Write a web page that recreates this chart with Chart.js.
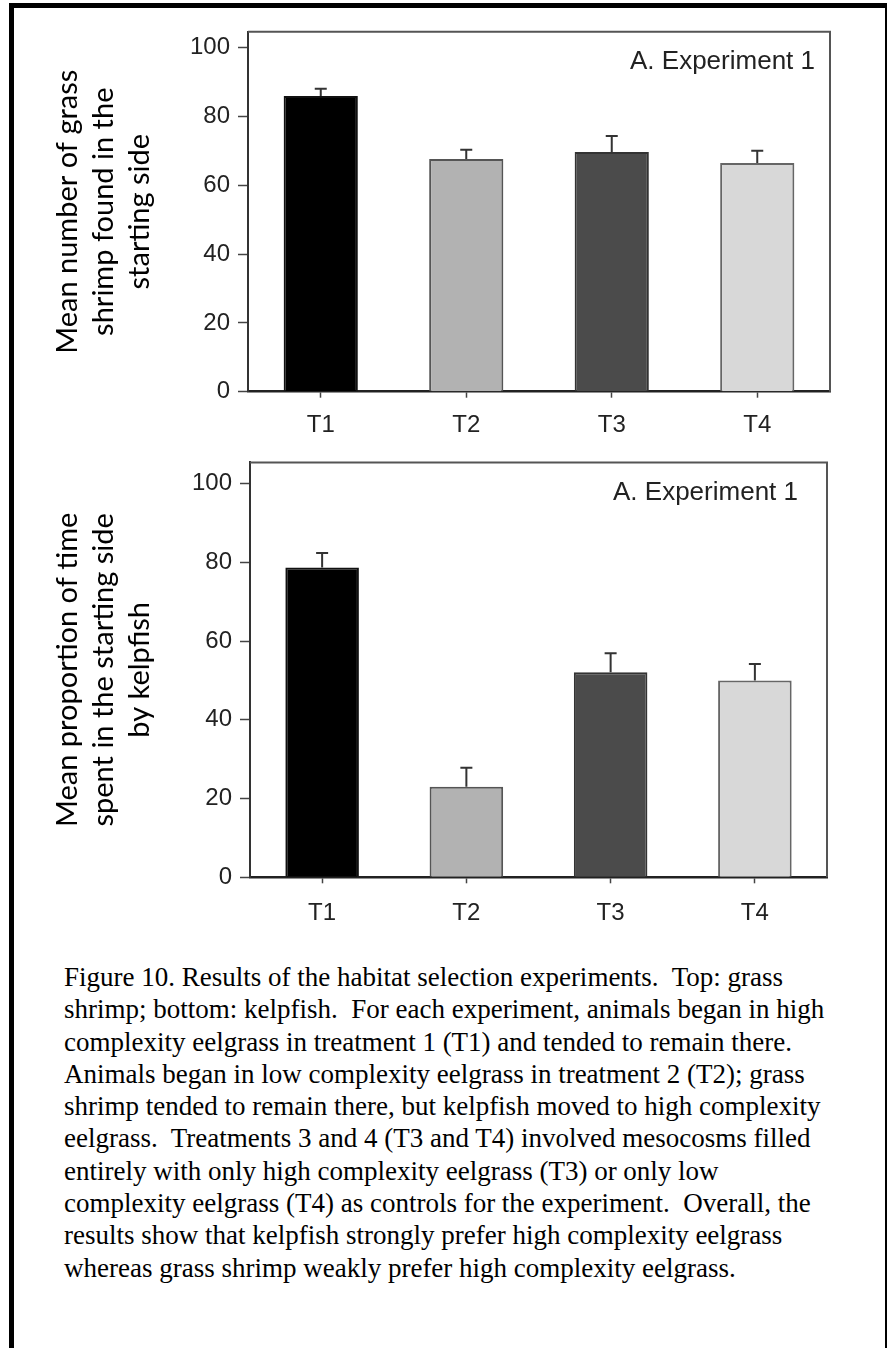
<!DOCTYPE html>
<html>
<head>
<meta charset="utf-8">
<script src="https://cdn.jsdelivr.net/npm/chart.js@4"></script>
<style>
  html, body { margin: 0; padding: 0; background: #fff; }
  body { width: 888px; height: 1348px; position: relative; overflow: hidden; }
  .frame {
    position: absolute; left: 9px; top: 3px; width: 871px; height: 1400px;
    border-top: 5px solid #000; border-left: 5px solid #000; border-right: 2px solid #000;
  }
  canvas { position: absolute; left: 0; }
  #shrimp-chart { top: 0; }
  #kelpfish-chart { top: 440px; }
  .caption {
    position: absolute; left: 64px; top: 961px;
    font-family: 'Liberation Serif', 'Times New Roman', serif;
    font-size: 27px; line-height: 32.3px; color: #000; white-space: pre;
  }
</style>
</head>
<body>
<div class="frame"></div>
<canvas id="shrimp-chart" width="888" height="440"></canvas>
<canvas id="kelpfish-chart" width="888" height="500"></canvas>
<div class="caption">Figure 10. Results of the habitat selection experiments.  Top: grass
shrimp; bottom: kelpfish.  For each experiment, animals began in high
complexity eelgrass in treatment 1 (T1) and tended to remain there.
Animals began in low complexity eelgrass in treatment 2 (T2); grass
shrimp tended to remain there, but kelpfish moved to high complexity
eelgrass.  Treatments 3 and 4 (T3 and T4) involved mesocosms filled
entirely with only high complexity eelgrass (T3) or only low
complexity eelgrass (T4) as controls for the experiment.  Overall, the
results show that kelpfish strongly prefer high complexity eelgrass
whereas grass shrimp weakly prefer high complexity eelgrass.</div>
<script>
const treatments = ['T1', 'T2', 'T3', 'T4'];
const yTicks = [0, 20, 40, 60, 80, 100];

// grass shrimp: mean number found in the starting side, with top of the error bar
const shrimpMeans = [86.0, 67.7, 69.7, 66.5];
const shrimpErrTop = [88.1, 70.4, 74.4, 70.1];

// kelpfish: mean proportion of time in the starting side, with top of the error bar
const kelpfishMeans = [78.7, 23.0, 52.1, 50.0];
const kelpfishErrTop = [82.4, 27.8, 56.9, 54.2];

const barFills = ['#000000', '#b2b2b2', '#4b4b4b', '#d8d8d8'];
const barEdges = ['#111111', '#555555', '#333333', '#666666'];

const panelLabel = 'A. Experiment 1';
const shrimpTitle = ['Mean number of grass', 'shrimp found in the', 'starting side'];
const kelpfishTitle = ['Mean proportion of time', 'spent in the starting side', 'by kelpfish'];

const AXIS_FONT = "'Liberation Sans', Arial, sans-serif";
const TITLE_FONT = "Lato, 'Open Sans', sans-serif";

const errorBars = {
    id: 'errorBars',
    afterDatasetsDraw(chart, args, opts) {
        const { ctx } = chart;
        const meta = chart.getDatasetMeta(0);
        const yScale = chart.scales.y;
        ctx.save();
        ctx.strokeStyle = '#333';
        ctx.lineWidth = 2;
        meta.data.forEach((bar, i) => {
            const top = yScale.getPixelForValue(opts.tops[i]);
            ctx.beginPath();
            ctx.moveTo(bar.x, bar.y);
            ctx.lineTo(bar.x, top);
            ctx.moveTo(bar.x - 6, top);
            ctx.lineTo(bar.x + 6, top);
            ctx.stroke();
        });
        ctx.restore();
    }
};

const frameAndLabel = {
    id: 'frameAndLabel',
    afterDraw(chart, args, opts) {
        const { ctx, chartArea } = chart;
        ctx.save();
        ctx.strokeStyle = '#555';
        ctx.lineWidth = 2;
        ctx.beginPath();
        ctx.moveTo(chartArea.left, chartArea.top);
        ctx.lineTo(chartArea.right, chartArea.top);
        ctx.lineTo(chartArea.right, chartArea.bottom);
        ctx.stroke();
        ctx.fillStyle = '#222';
        ctx.font = '26px ' + AXIS_FONT;
        ctx.textAlign = 'right';
        ctx.textBaseline = 'middle';
        ctx.fillText(opts.text, chartArea.right - opts.dx, chartArea.top + opts.dy);
        ctx.restore();
    }
};

function makeChart(id, means, errTop, title, cfg) {
    const ctx = document.getElementById(id).getContext('2d');
    return new Chart(ctx, {
        type: 'bar',
        data: {
            labels: treatments,
            datasets: [{
                data: means,
                backgroundColor: barFills,
                borderColor: barEdges,
                borderWidth: 2,
                barPercentage: 0.51,
                categoryPercentage: 1
            }]
        },
        options: {
            responsive: false,
            animation: false,
            devicePixelRatio: 1,
            layout: { padding: { top: cfg.top, right: cfg.right, left: 0, bottom: 0 } },
            plugins: {
                legend: { display: false },
                tooltip: { enabled: false },
                errorBars: { tops: errTop },
                frameAndLabel: { text: panelLabel, dx: cfg.labelDx, dy: 30 }
            },
            scales: {
                x: {
                    afterFit: (scale) => { scale.height = cfg.xHeight; },
                    grid: {
                        offset: false,
                        drawOnChartArea: false,
                        tickLength: 6,
                        tickWidth: 1.5,
                        tickColor: '#444'
                    },
                    border: { color: '#222', width: 2.5 },
                    ticks: {
                        color: '#222',
                        padding: cfg.xPad,
                        font: { family: AXIS_FONT, size: 24 }
                    }
                },
                y: {
                    min: 0,
                    max: cfg.max,
                    afterFit: (scale) => { scale.width = cfg.left; },
                    afterBuildTicks: (scale) => { scale.ticks = yTicks.map((v) => ({ value: v })); },
                    grid: {
                        drawOnChartArea: false,
                        tickLength: 10,
                        tickWidth: 1.5,
                        tickColor: '#444'
                    },
                    border: { color: '#333', width: 2 },
                    ticks: {
                        color: '#222',
                        padding: 8,
                        font: { family: AXIS_FONT, size: 24 }
                    },
                    title: {
                        display: true,
                        text: title,
                        color: '#000',
                        padding: { top: 50, bottom: 0 },
                        font: { family: TITLE_FONT, size: 29, lineHeight: '36px' }
                    }
                }
            }
        },
        plugins: [errorBars, frameAndLabel]
    });
}

makeChart('shrimp-chart', shrimpMeans, shrimpErrTop, shrimpTitle, {
    top: 31.7, right: 58, left: 248, xHeight: 48.3, max: 104.7, labelDx: 15, xPad: 13
});
makeChart('kelpfish-chart', kelpfishMeans, kelpfishErrTop, kelpfishTitle, {
    top: 16.7, right: 61, left: 250, xHeight: 62.7, max: 105.4, labelDx: 29, xPad: 16
});
</script>
</body>
</html>
